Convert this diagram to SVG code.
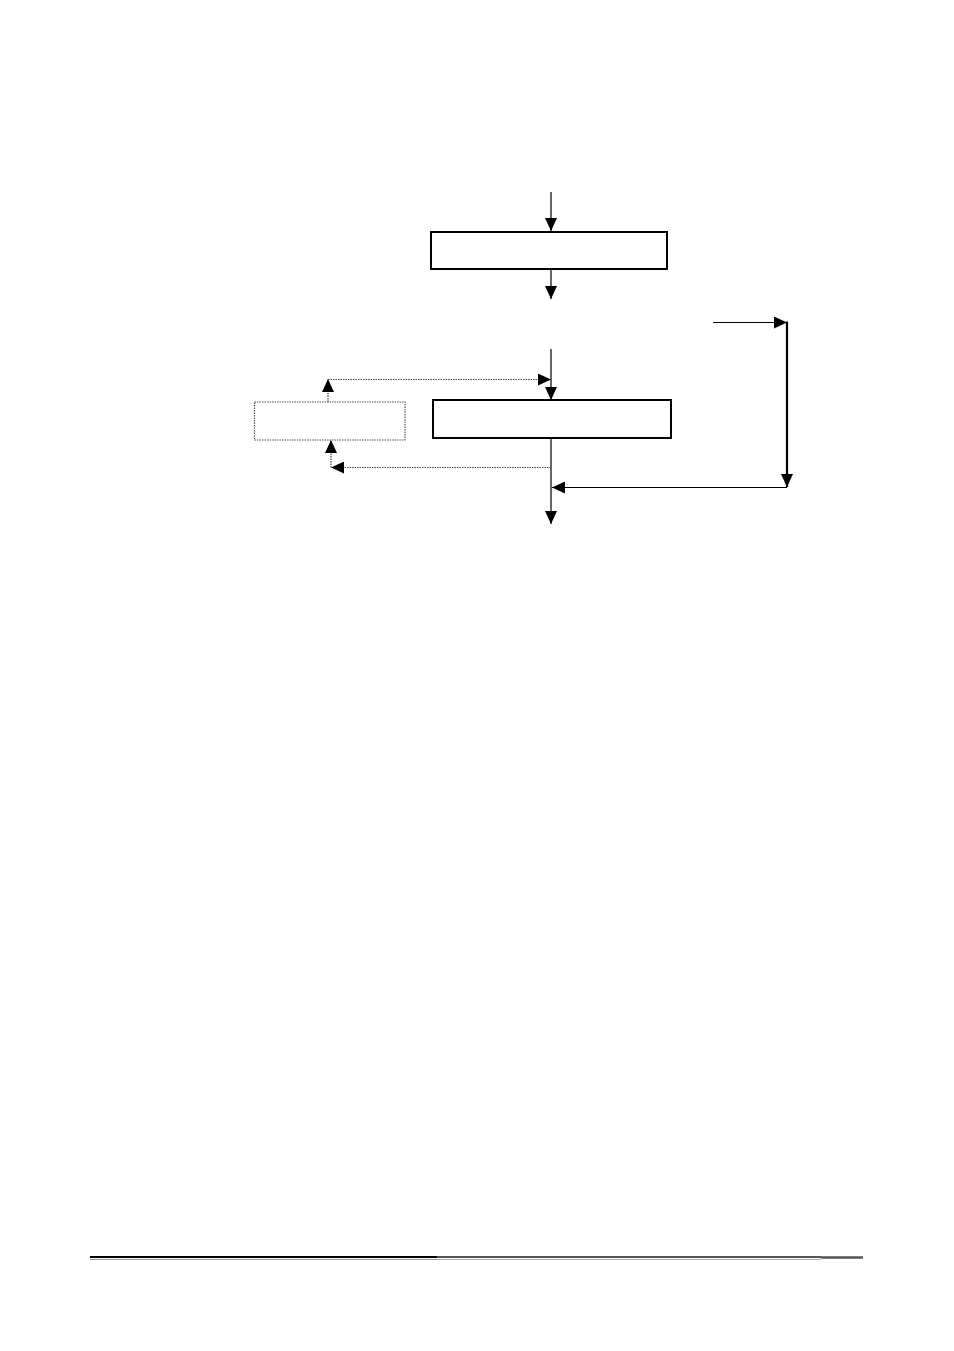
<svg xmlns="http://www.w3.org/2000/svg" width="954" height="1351" viewBox="0 0 954 1351">
<style>
.box{fill:#fff;stroke:#000;stroke-width:2}
.dbox{fill:#fff;stroke:#555;stroke-width:1.2;stroke-dasharray:1.5,1}
.ln{fill:none;stroke:#000;stroke-width:1.2}
.thick{fill:none;stroke:#000;stroke-width:2.2}
.dot{fill:none;stroke:#444;stroke-width:1.2;stroke-dasharray:1.5,1}
</style>
<defs>
<marker id="ah" viewBox="0 0 13 12" refX="13" refY="6" markerWidth="13" markerHeight="12" markerUnits="userSpaceOnUse" orient="auto">
<path d="M0,0 L13,6 L0,12 Z" fill="#000"/>
</marker>
</defs>
<rect width="954" height="1351" fill="#fff"/>
<g id="node1"><rect class="box" x="431" y="232" width="236" height="37"/></g>
<g id="node2"><rect class="box" x="433" y="400" width="238" height="38"/></g>
<g id="node3"><rect class="dbox" x="254.5" y="402" width="150.5" height="38"/></g>
<g id="connectors">
<line class="ln" x1="551" y1="192" x2="551" y2="231" marker-end="url(#ah)"/>
<line class="ln" x1="551" y1="269" x2="551" y2="299" marker-end="url(#ah)"/>
<line class="ln" x1="551" y1="349" x2="551" y2="400" marker-end="url(#ah)"/>
<line class="dot" x1="328" y1="379.5" x2="551" y2="379.5" marker-end="url(#ah)"/>
<line class="dot" x1="328" y1="402" x2="328" y2="379" marker-end="url(#ah)"/>
<line class="ln" x1="551" y1="438" x2="551" y2="524" marker-end="url(#ah)"/>
<line class="dot" x1="551" y1="467.5" x2="331" y2="467.5" marker-end="url(#ah)"/>
<line class="dot" x1="331" y1="467.5" x2="331" y2="440" marker-end="url(#ah)"/>
<line class="ln" x1="713" y1="322.5" x2="787" y2="322.5" marker-end="url(#ah)"/>
<line class="thick" x1="787" y1="321.5" x2="787" y2="487" marker-end="url(#ah)"/>
<line class="ln" x1="787" y1="487.5" x2="552" y2="487.5" marker-end="url(#ah)"/>
</g>
<g id="footer">
<line x1="90" y1="1257" x2="437" y2="1257" stroke="#000" stroke-width="2"/>
<line x1="90" y1="1259.5" x2="437" y2="1259.5" stroke="#999" stroke-width="1"/>
<line x1="437" y1="1257" x2="821" y2="1257" stroke="#555" stroke-width="2"/>
<line x1="437" y1="1259.5" x2="821" y2="1259.5" stroke="#aaa" stroke-width="1"/>
<line x1="821" y1="1257.5" x2="863" y2="1257.5" stroke="#555" stroke-width="2.4"/>
</g>
</svg>
